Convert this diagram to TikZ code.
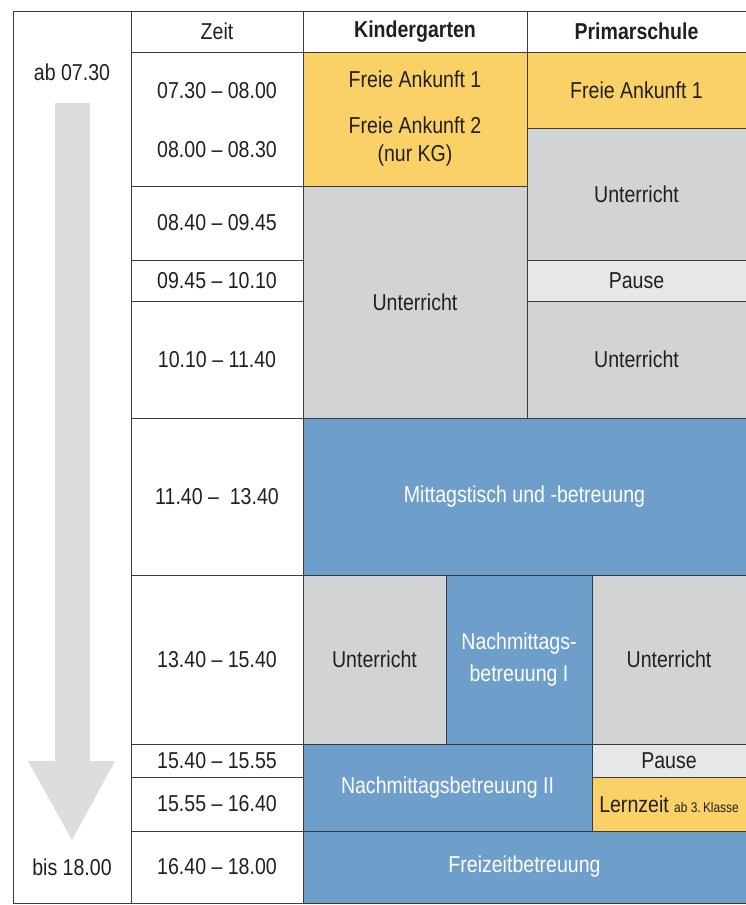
\documentclass[tikz,border=0pt]{standalone}
\usepackage{fontspec}
\setmainfont{Liberation Sans}[FakeStretch=0.85]
\definecolor{gelb}{HTML}{F9D166}
\definecolor{grau}{HTML}{D1D3D4}
\definecolor{hellgrau}{HTML}{E6E7E8}
\definecolor{blau}{HTML}{6E9FCB}
\definecolor{linie}{HTML}{3C3C3C}
\definecolor{schrift}{HTML}{231F20}
\definecolor{pfeil}{HTML}{DCDDDF}
% cell: style, name, x1, y1, x2, y2, text
\newcommand{\feld}[7]{\node[#1,minimum width={#5-#3},minimum height={#6-#4}] (#2) at ({(#3+#5)/2},{(#4+#6)/2}) {#7};}
\begin{document}
\begin{tikzpicture}[x=1pt,y=-1pt,
        font=\fontsize{23}{28}\selectfont,
        base/.style={draw=linie,line width=0.9pt,inner sep=0pt,outer sep=0pt,align=center,text=schrift},
        frei/.style={base,fill=white},
        ankunft/.style={base,fill=gelb},
        unterricht/.style={base,fill=grau},
        pause/.style={base,fill=hellgrau},
        betreuung/.style={base,fill=blau,text=white},
        kopf/.style={frei,font=\fontsize{23}{28}\selectfont\bfseries},
        zeit/.style={text=schrift,inner sep=0pt}]
        \useasboundingbox (0,0) rectangle (746,905);
        % Left column with arrow
        \feld{frei}{rand}{13}{11}{131}{903}{}
        \fill[pfeil] (55,103) -- (90,103) -- (90,761) -- (115,761) -- (72,840) -- (28,761) -- (55,761) -- cycle;
        \node[zeit] (ab) at (72,72) {ab 07.30};
        \node[zeit] (bis) at (72,867) {bis 18.00};
        % Header
        \feld{frei}{zeitkopf}{131}{11}{303}{52}{Zeit}
        \feld{kopf}{kgkopf}{303}{11}{527}{52}{Kindergarten}
        \feld{kopf}{pskopf}{527}{11}{746}{52}{Primarschule}
        % Time column
        \foreach \oben/\unten/\zeit [count=\i] in {52/186/{}, 186/260/{08.40 -- 09.45}, 260/301/{09.45 -- 10.10},
                301/418/{10.10 -- 11.40}, 418/575/{11.40 --\ \ 13.40}, 575/744/{13.40 -- 15.40},
                744/777/{15.40 -- 15.55}, 777/831/{15.55 -- 16.40}, 831/903/{16.40 -- 18.00}}
            {\feld{frei}{z\i}{131}{\oben}{303}{\unten}{\zeit}}
        \node[zeit] (z1a) at (217,91) {07.30 -- 08.00};
        \node[zeit] (z1b) at (217,150) {08.00 -- 08.30};
        % Kindergarten
        \feld{ankunft}{kg1}{303}{52}{527}{186}{Freie Ankunft 1\\[18pt]Freie Ankunft 2\\(nur KG)}
        \feld{unterricht}{kg2}{303}{186}{527}{418}{Unterricht}
        \feld{unterricht}{kg3}{303}{575}{446}{744}{Unterricht}
        \feld{betreuung}{kg4}{446}{575}{592}{744}{Nachmittags-\\[4pt]betreuung I}
        % Primarschule
        \feld{ankunft}{ps1}{527}{52}{746}{128}{Freie Ankunft 1}
        \feld{unterricht}{ps2}{527}{128}{746}{260}{Unterricht}
        \feld{pause}{ps3}{527}{260}{746}{301}{Pause}
        \feld{unterricht}{ps4}{527}{301}{746}{418}{Unterricht}
        \feld{unterricht}{ps5}{592}{575}{746}{744}{Unterricht}
        \feld{pause}{ps6}{592}{744}{746}{777}{Pause}
        \feld{ankunft}{ps7}{592}{777}{746}{831}{Lernzeit {\fontsize{14}{16}\selectfont ab 3.\,Klasse}}
        % Shared blocks
        \feld{betreuung}{mittag}{303}{418}{746}{575}{Mittagstisch und -betreuung}
        \feld{betreuung}{nachmittag}{303}{744}{592}{831}{Nachmittagsbetreuung II}
        \feld{betreuung}{freizeit}{303}{831}{746}{903}{Freizeitbetreuung}
    \end{tikzpicture}
\end{document}
